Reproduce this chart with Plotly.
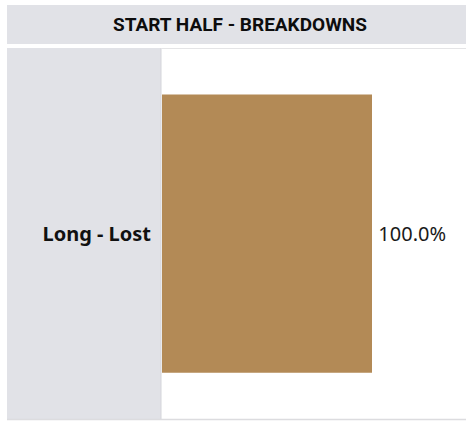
import plotly.graph_objects as go

W, H = 466, 421

categories = ["Long - Lost"]
values = [100.0]

title_text = "START HALF - BREAKDOWNS"
bar_color = "#b38a56"
panel_color = "#e1e2e7"


def px_x(p):
    return p / W


def px_y(p):
    return (H - p) / H


fig = go.Figure(
    go.Bar(
        y=categories,
        x=values,
        orientation="h",
        marker=dict(color=bar_color, line=dict(width=0)),
        texttemplate="\u2009%{x:.1f}%",
        textposition="outside",
        textfont=dict(family="Noto Sans", size=20, color="#1a1a1a"),
        cliponaxis=False,
        hoverinfo="skip",
    )
)

shapes = [
    # title band
    dict(type="rect", xref="paper", yref="paper",
         x0=px_x(7), x1=1, y0=px_y(44), y1=px_y(5),
         fillcolor=panel_color, line=dict(width=0), layer="below"),
    # category label panel
    dict(type="rect", xref="paper", yref="paper",
         x0=px_x(7), x1=px_x(161), y0=px_y(419), y1=px_y(48),
         fillcolor=panel_color, line=dict(width=0), layer="below"),
    dict(type="line", xref="paper", yref="paper",
         x0=px_x(161), x1=px_x(161), y0=px_y(419), y1=px_y(48),
         line=dict(color="#d4d5da", width=1), layer="below"),
    # row separators
    dict(type="line", xref="paper", yref="paper",
         x0=px_x(161), x1=1, y0=px_y(48.5), y1=px_y(48.5),
         line=dict(color="#e4e4e6", width=1), layer="below"),
    dict(type="line", xref="paper", yref="paper",
         x0=px_x(7), x1=1, y0=px_y(419.5), y1=px_y(419.5),
         line=dict(color="#dcdcdf", width=1.5), layer="below"),
]

fig.update_layout(
    width=W,
    height=H,
    margin=dict(l=0, r=0, t=0, b=0),
    paper_bgcolor="white",
    plot_bgcolor="rgba(0,0,0,0)",
    showlegend=False,
    bargap=0.25,
    shapes=shapes,
    annotations=[
        dict(text=title_text, xref="paper", yref="paper",
             x=px_x(240), y=px_y(25), xanchor="center", yanchor="middle",
             showarrow=False,
             font=dict(family="Roboto", size=19, color="#0d0d0d",
                       weight="bold")),
    ],
    xaxis=dict(domain=[px_x(162), 1], range=[0, 304 / 2.1],
               visible=False, fixedrange=True),
    yaxis=dict(domain=[px_y(419), px_y(48)], showgrid=False,
               zeroline=False, showline=False, ticks="",
               ticklabelstandoff=10,
               tickfont=dict(family="Noto Sans", size=20, color="#111111",
                             weight="bold"),
               fixedrange=True),
)

fig.write_html("out.html")
